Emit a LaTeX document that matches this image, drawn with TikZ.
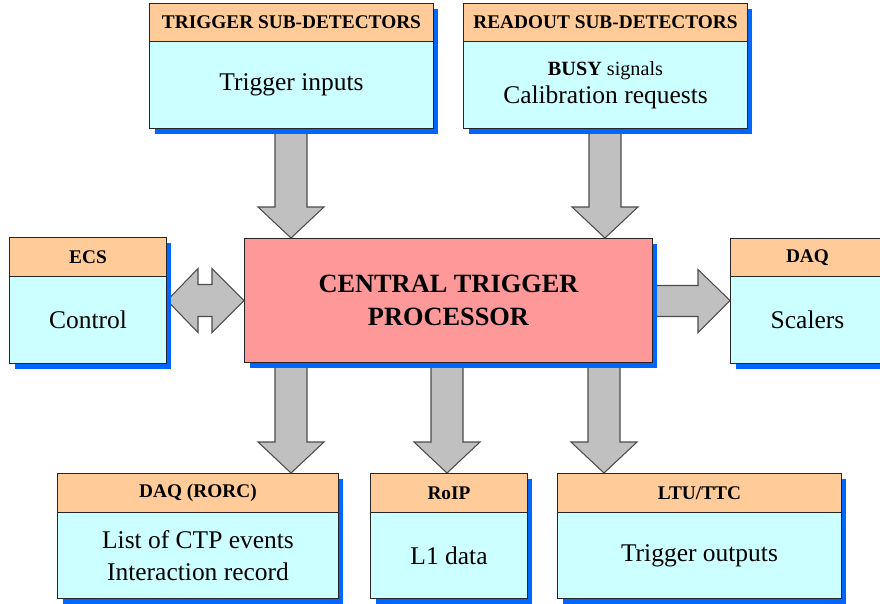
\documentclass[tikz,border=0pt]{standalone}
\usepackage{fontspec}
\setmainfont{Liberation Serif}
\usetikzlibrary{calc,shadows,backgrounds}
\definecolor{hdrorange}{HTML}{FFCC99}
\definecolor{bodycyan}{HTML}{CCFFFF}
\definecolor{ctpred}{HTML}{FF9999}
\definecolor{shadowblue}{HTML}{0066FF}
\definecolor{arrowgray}{HTML}{C0C0C0}
\tikzset{
 boxbase/.style={draw=black!85,line width=0.6pt,inner sep=0pt,anchor=north west,align=center,
   drop shadow={shadow xshift=0.1cm,shadow yshift=-0.1cm,fill=shadowblue,opacity=1}},
 hdr/.style={boxbase,fill=hdrorange,font=\rmfamily\fontsize{11}{13}\selectfont\bfseries},
 body/.style={boxbase,fill=bodycyan,font=\rmfamily\fontsize{14.5}{18}\selectfont},
 blockarrow/.style={draw=black!70,fill=arrowgray,line width=0.6pt,line join=miter}
}
\begin{document}
\begin{tikzpicture}[x=0.02cm,y=-0.02cm]
 \useasboundingbox (0,0) rectangle (880,603);
 % top boxes
 \node[hdr,minimum width=5.68cm,minimum height=0.76cm] (trgh) at (149,3) {TRIGGER SUB-DETECTORS};
 \node[body,minimum width=5.68cm,minimum height=1.74cm] (trg) at (149,41) {Trigger inputs};
 \node[hdr,minimum width=5.68cm,minimum height=0.76cm] (rdoh) at (463,3) {READOUT SUB-DETECTORS};
 \node[body,minimum width=5.68cm,minimum height=1.74cm] (rdo) at (463,41)
  {{\fontsize{11.5}{13}\selectfont\textbf{BUSY} signals}\\[-2pt]Calibration requests};
 % middle row
 \node[hdr,minimum width=3.14cm,minimum height=0.78cm] (ecsh) at (9,237) {ECS};
 \node[body,minimum width=3.14cm,minimum height=1.74cm] (ecs) at (9,276) {Control};
 \node[boxbase,fill=ctpred,minimum width=8.16cm,minimum height=2.48cm,
  font=\rmfamily\fontsize{15}{18.5}\selectfont\bfseries] (ctp) at (244,238) {CENTRAL TRIGGER\\PROCESSOR};
 \node[hdr,minimum width=3.08cm,minimum height=0.76cm] (daqh) at (730,238) {DAQ};
 \node[body,minimum width=3.08cm,minimum height=1.74cm] (daq) at (730,276) {Scalers};
 % bottom boxes
 \node[hdr,minimum width=5.62cm,minimum height=0.78cm] (rorch) at (57,473) {DAQ (RORC)};
 \node[body,minimum width=5.62cm,minimum height=1.72cm] (rorc) at (57,512) {List of CTP events\\Interaction record};
 \node[hdr,minimum width=3.14cm,minimum height=0.78cm] (roiph) at (370,473) {RoIP};
 \node[body,minimum width=3.14cm,minimum height=1.72cm] (roip) at (370,512) {L1 data};
 \node[hdr,minimum width=5.68cm,minimum height=0.78cm] (ltuh) at (557,473) {LTU/TTC};
 \node[body,minimum width=5.68cm,minimum height=1.72cm] (ltu) at (557,512) {Trigger outputs};
 % block arrows
 \begin{scope}[on background layer]
  \foreach \s/\t/\x in {trg/ctp/291,rdo/ctp/605,ctp/rorch/291,ctp/roiph/447,ctp/ltuh/604}{
   \coordinate (a) at (\x,0 |- \s.south);
   \coordinate (b) at (\x,0 |- \t.north);
   \draw[blockarrow] ($(a)+(-16,0)$) -- ($(b)+(-16,-31)$) -- ($(b)+(-33,-31)$) -- (b)
    -- ($(b)+(33,-31)$) -- ($(b)+(16,-31)$) -- ($(a)+(16,0)$) -- cycle;
  }
  \coordinate (l) at (ecs.east |- ctp.west);
  \draw[blockarrow] (l) -- ++(31,-32) -- ++(0,16) -- ($(ctp.west)+(-32,-16)$) -- ++(0,-16) -- (ctp.west)
   -- ++(-32,32) -- ++(0,-16) -- ($(l)+(31,16)$) -- ++(0,16) -- cycle;
  \coordinate (r) at (daq.west |- ctp.east);
  \draw[blockarrow] (ctp.east) ++(0,-15) -- ($(r)+(-32,-15)$) -- ++(0,-16) -- (r) -- ++(-32,32)
   -- ++(0,-16) -- ($(ctp.east)+(0,16)$);
 \end{scope}
\end{tikzpicture}
\end{document}
